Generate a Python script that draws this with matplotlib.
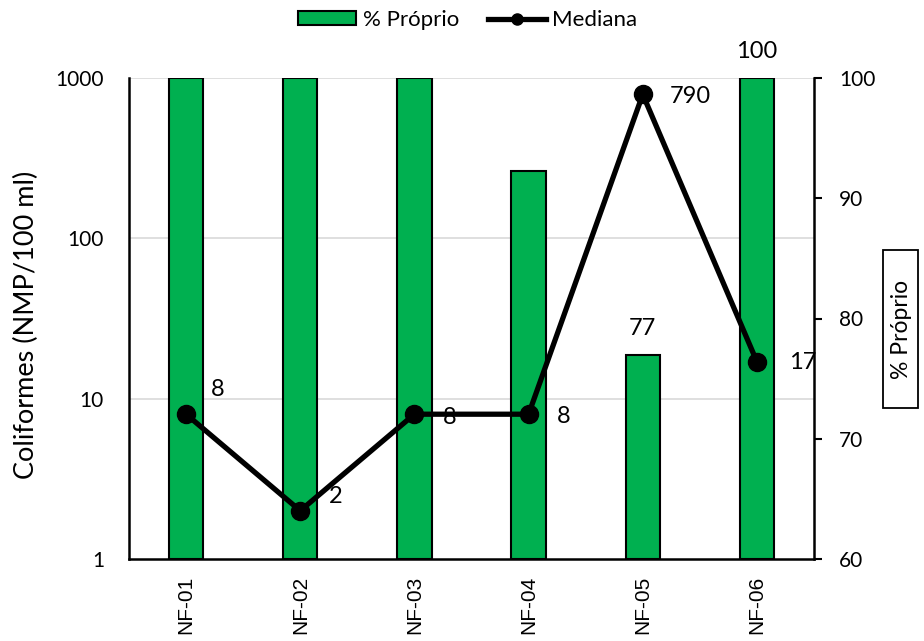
import matplotlib
matplotlib.use("Agg")
import matplotlib.pyplot as plt
import numpy as np
from matplotlib.ticker import FixedLocator, NullLocator, FixedFormatter
from matplotlib.lines import Line2D
from matplotlib.patches import Rectangle

categories = ["NF-01", "NF-02", "NF-03", "NF-04", "NF-05", "NF-06"]
pct_proprio = [100, 100, 100, 92.3, 77, 100]
mediana = [8, 2, 8, 8, 790, 17]
pct_labels = {4: "77", 5: "100"}
left_ticks = [1, 10, 100, 1000]
left_tick_labels = ["1", "10", "100", "1000"]
right_ticks = [60, 70, 80, 90, 100]

plt.rcParams['font.family'] = ['Lato', 'DejaVu Sans']

W, H = 924, 641
fig = plt.figure(figsize=(W / 100, H / 100), dpi=100)
ax = fig.add_axes([129 / W, (H - 559) / H, (814 - 129) / W, (559 - 78) / H])
ax2 = ax.twinx()

x = np.arange(len(categories))
green = "#00b050"

ax.set_zorder(2)
ax.patch.set_visible(False)
ax2.set_zorder(1)

ax2.bar(x, [v - 60 for v in pct_proprio], bottom=60, width=0.3, color=green,
        edgecolor="black", linewidth=1.5, label="% Próprio", zorder=2)
ax2.set_ylim(60, 100)
ax2.yaxis.set_major_locator(FixedLocator(right_ticks))
ax2.tick_params(axis='y', direction='out', length=6, width=1.5, labelsize=15, pad=12)
for i, t in pct_labels.items():
    ax2.annotate(t, (x[i], pct_proprio[i]), xytext=(0, 26), textcoords='offset pixels',
                 ha='center', va='center', fontsize=17)

ax.set_yscale('log')
ax.set_ylim(1, 1000)
ax.set_xlim(-0.5, len(categories) - 0.5)
ax.yaxis.set_major_locator(FixedLocator(left_ticks))
ax.yaxis.set_major_formatter(FixedFormatter(left_tick_labels))
ax.yaxis.set_minor_locator(NullLocator())
ax.tick_params(axis='y', length=0, labelsize=15, pad=18)
for yv in [10, 100, 1000]:
    ax2.axhline(60 + (np.log10(yv) / 3) * 40, color="#d9d9d9", linewidth=1.2, zorder=0)

ax.plot(x, mediana, color='black', linewidth=3.8, marker='o', markersize=13,
        label="Mediana", zorder=5, clip_on=False)

offsets = [(32, 25), (35, 14), (35, -3), (35, -2), (48, -2), (46, -1)]
for i, v in enumerate(mediana):
    ax.annotate(str(v), (x[i], v), xytext=offsets[i], textcoords='offset pixels',
                ha='center', va='center', fontsize=17, zorder=6)

ax.set_xticks(x)
ax.set_xticklabels(categories, rotation=90, fontsize=15, family=['Liberation Sans'])
ax.tick_params(axis='x', length=0, pad=12)
fig.text(26 / W, 1 - 325 / H, "Coliformes (NMP/100 ml)", rotation=90, ha='center',
         va='center', fontsize=19.5)

# boxed right axis title
fig.add_artist(Rectangle((883 / W, 1 - 408 / H), 35 / W, 158 / H, transform=fig.transFigure,
                         facecolor='white', edgecolor='black', linewidth=1.3))
fig.text(901 / W, 1 - 329 / H, "% Próprio", rotation=90, ha='center', va='center', fontsize=16.5)

for a in (ax, ax2):
    a.spines['top'].set_visible(False)
ax.spines['left'].set_linewidth(1.8)
ax.spines['bottom'].set_linewidth(1.8)
ax2.spines['right'].set_linewidth(1.8)
ax2.spines['left'].set_visible(False)
ax2.spines['bottom'].set_visible(False)
ax.spines['right'].set_visible(False)

h1, l1 = ax2.get_legend_handles_labels()
line_handle = Line2D([], [], color='black', linewidth=3.8, marker='o', markersize=8)
fig.legend(h1 + [line_handle], l1 + ["Mediana"], loc='center', bbox_to_anchor=(468 / W, 1 - 20 / H),
           ncol=2, frameon=False, fontsize=16, handlelength=2.6, handleheight=0.6,
           columnspacing=1.3, handletextpad=0.3)

fig.savefig("out.png", dpi=100)
